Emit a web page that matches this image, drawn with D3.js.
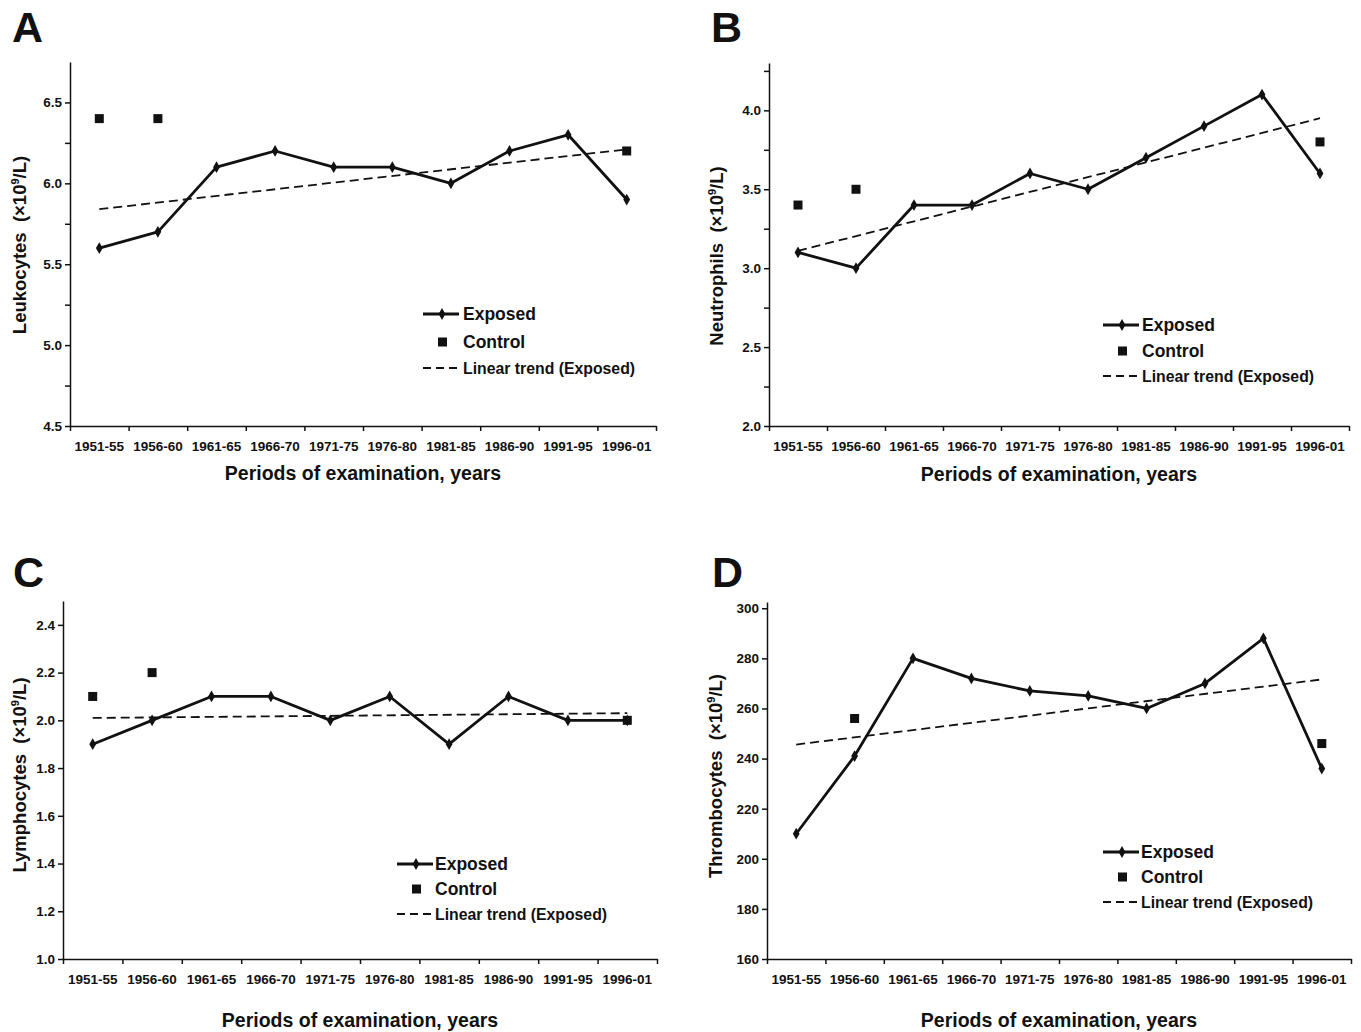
<!DOCTYPE html>
<html>
<head>
<meta charset="utf-8">
<script src="https://cdn.jsdelivr.net/npm/d3@7"></script>
<style>
  html, body { margin: 0; padding: 0; background: #fff; }
  svg { display: block; font-family: "Liberation Sans", Arial, sans-serif; font-weight: bold; }
</style>
</head>
<body>
<div id="chart"></div>
<script>
// Blood counts over examination periods — four panels (A–D)
const periods = ["1951-55", "1956-60", "1961-65", "1966-70", "1971-75",
                 "1976-80", "1981-85", "1986-90", "1991-95", "1996-01"];

const leukocytesExposed = [5.6, 5.7, 6.1, 6.2, 6.1, 6.1, 6.0, 6.2, 6.3, 5.9];
const leukocytesControl = [6.4, 6.4, null, null, null, null, null, null, null, 6.2];
const leukocytesTrend = [5.84, 6.21];
const leukocytesTicks = [4.5, 5.0, 5.5, 6.0, 6.5];
const leukocytesMinor = [4.75, 5.25, 5.75, 6.25];

const neutrophilsExposed = [3.1, 3.0, 3.4, 3.4, 3.6, 3.5, 3.7, 3.9, 4.1, 3.6];
const neutrophilsControl = [3.4, 3.5, null, null, null, null, null, null, null, 3.8];
const neutrophilsTrend = [3.11, 3.95];
const neutrophilsTicks = [2.0, 2.5, 3.0, 3.5, 4.0];
const neutrophilsMinor = [2.25, 2.75, 3.25, 3.75, 4.25];

const lymphocytesExposed = [1.9, 2.0, 2.1, 2.1, 2.0, 2.1, 1.9, 2.1, 2.0, 2.0];
const lymphocytesControl = [2.1, 2.2, null, null, null, null, null, null, null, 2.0];
const lymphocytesTrend = [2.01, 2.03];
const lymphocytesTicks = [1.0, 1.2, 1.4, 1.6, 1.8, 2.0, 2.2, 2.4];

const thrombocytesExposed = [210, 241, 280, 272, 267, 265, 260, 270, 288, 236];
const thrombocytesControl = [null, 256, null, null, null, null, null, null, null, 246];
const thrombocytesTrend = [245.6, 271.6];
const thrombocytesTicks = [160, 180, 200, 220, 240, 260, 280, 300];

const legendLabels = ["Exposed", "Control", "Linear trend (Exposed)"];
const xTitle = "Periods of examination, years";

const panels = [
  { letter: "A", name: "Leukocytes", exposed: leukocytesExposed, control: leukocytesControl,
    trend: leukocytesTrend, ticks: leukocytesTicks, minor: leukocytesMinor, fmt: ".1f",
    domain: [4.5, 6.75], x0: 70, x1: 656, yTop: 62, yBot: 426,
    letterX: 12, letterY: 42, labelX: 26, labelY: 245, titleY: 480,
    legend: { x: 423, tx: 463, rows: [314, 342, 368] } },
  { letter: "B", name: "Neutrophils", exposed: neutrophilsExposed, control: neutrophilsControl,
    trend: neutrophilsTrend, ticks: neutrophilsTicks, minor: neutrophilsMinor, fmt: ".1f",
    domain: [2.0, 4.3], x0: 769, x1: 1349, yTop: 63, yBot: 426,
    letterX: 711, letterY: 42, labelX: 723, labelY: 256, titleY: 481,
    legend: { x: 1103, tx: 1142, rows: [325, 351, 376] } },
  { letter: "C", name: "Lymphocytes", exposed: lymphocytesExposed, control: lymphocytesControl,
    trend: lymphocytesTrend, ticks: lymphocytesTicks, minor: [], fmt: ".1f",
    domain: [1.0, 2.5], x0: 63, x1: 657, yTop: 601, yBot: 959,
    letterX: 13, letterY: 587, labelX: 26, labelY: 775, titleY: 1027,
    legend: { x: 397, tx: 435, rows: [864, 889, 914] } },
  { letter: "D", name: "Thrombocytes", exposed: thrombocytesExposed, control: thrombocytesControl,
    trend: thrombocytesTrend, ticks: thrombocytesTicks, minor: [], fmt: "d",
    domain: [160, 302.5], x0: 767, x1: 1351, yTop: 602, yBot: 959,
    letterX: 712, letterY: 587, labelX: 722, labelY: 776, titleY: 1027,
    legend: { x: 1103, tx: 1141, rows: [852, 877, 902] } }
];

const ink = "#111";
const svg = d3.select("#chart").append("svg")
  .attr("width", 1361).attr("height", 1032)
  .attr("viewBox", "0 0 1361 1032");

function drawPanel(p) {
  const g = svg.append("g");
  const x = d3.scaleBand().domain(periods).range([p.x0, p.x1]).padding(0);
  const xEdge = d3.scaleLinear().domain([0, periods.length]).range([p.x0, p.x1]);
  const y = d3.scaleLinear().domain(p.domain).range([p.yBot, p.yTop]);
  const cx = d => x(d) + x.bandwidth() / 2;
  const fmt = d3.format(p.fmt);

  // Panel letter
  g.append("text").attr("x", p.letterX).attr("y", p.letterY)
    .attr("font-size", "43px").attr("fill", ink).text(p.letter);

  // Y axis
  const majors = new Set(p.ticks);
  const yAxis = g.append("g").attr("transform", `translate(${p.x0},0)`)
    .call(d3.axisLeft(y).tickValues(p.ticks.concat(p.minor)).tickSizeInner(5).tickSizeOuter(0)
      .tickPadding(3).tickFormat(d => majors.has(d) ? fmt(d) : ""));
  yAxis.selectAll("path, line").attr("stroke", ink).attr("stroke-width", 1.5);
  yAxis.selectAll("text").attr("font-size", "13.5px").attr("fill", ink)
    .attr("font-family", "'Liberation Sans', Arial, sans-serif").attr("font-weight", "bold");

  // X axis: tick marks on band edges, labels at band centers
  const xAxis = g.append("g").attr("transform", `translate(0,${p.yBot})`)
    .call(d3.axisBottom(xEdge).tickValues(d3.range(periods.length + 1))
      .tickSizeInner(5).tickSizeOuter(0).tickFormat(""));
  xAxis.selectAll("path, line").attr("stroke", ink).attr("stroke-width", 1.5);

  const xLabels = g.append("g").attr("transform", `translate(0,${p.yBot})`)
    .call(d3.axisBottom(x).tickSize(0).tickPadding(15));
  xLabels.select(".domain").remove();
  xLabels.selectAll("text").attr("font-size", "13.5px").attr("fill", ink)
    .attr("font-family", "'Liberation Sans', Arial, sans-serif").attr("font-weight", "bold");

  // Axis titles
  g.append("text").attr("x", (p.x0 + p.x1) / 2).attr("y", p.titleY)
    .attr("text-anchor", "middle").attr("font-size", "19.5px").attr("fill", ink).text(xTitle);

  const yl = g.append("text")
    .attr("transform", `translate(${p.labelX},${p.labelY}) rotate(-90)`)
    .attr("text-anchor", "middle").attr("font-size", "18.5px").attr("fill", ink);
  yl.append("tspan").text(p.name + "\u00a0\u00a0(\u00d710");
  yl.append("tspan").attr("dy", -7).attr("font-size", "11px").text("9");
  yl.append("tspan").attr("dy", 7).text("/L)");

  // Linear trend (dashed)
  const ends = [periods[0], periods[periods.length - 1]];
  g.append("line")
    .attr("x1", cx(ends[0])).attr("y1", y(p.trend[0]))
    .attr("x2", cx(ends[1])).attr("y2", y(p.trend[1]))
    .attr("stroke", ink).attr("stroke-width", 1.8).attr("stroke-dasharray", "9,5");

  // Exposed line + diamonds
  const pts = periods.map((d, i) => ({ d, v: p.exposed[i] }));
  g.append("path").datum(pts)
    .attr("fill", "none").attr("stroke", ink).attr("stroke-width", 2.8)
    .attr("stroke-linejoin", "round")
    .attr("d", d3.line().x(e => cx(e.d)).y(e => y(e.v)));
  g.selectAll(".dia").data(pts).join("path")
    .attr("transform", e => `translate(${cx(e.d)},${y(e.v)})`)
    .attr("d", d3.symbol(d3.symbolDiamond, 40)).attr("fill", ink);

  // Control squares
  const ctl = periods.map((d, i) => ({ d, v: p.control[i] })).filter(e => e.v != null);
  g.selectAll(".ctl").data(ctl).join("rect")
    .attr("x", e => cx(e.d) - 4.5).attr("y", e => y(e.v) - 4.5)
    .attr("width", 9).attr("height", 9).attr("fill", ink);

  // Legend
  const L = p.legend;
  g.append("line").attr("x1", L.x).attr("x2", L.x + 36).attr("y1", L.rows[0]).attr("y2", L.rows[0])
    .attr("stroke", ink).attr("stroke-width", 2.8);
  g.append("path").attr("transform", `translate(${L.x + 19},${L.rows[0]})`)
    .attr("d", d3.symbol(d3.symbolDiamond, 40)).attr("fill", ink);
  g.append("rect").attr("x", L.x + 15).attr("y", L.rows[1] - 4.5).attr("width", 9).attr("height", 9).attr("fill", ink);
  g.append("line").attr("x1", L.x).attr("x2", L.x + 35).attr("y1", L.rows[2]).attr("y2", L.rows[2])
    .attr("stroke", ink).attr("stroke-width", 1.8).attr("stroke-dasharray", "8,5");
  const sizes = ["17.5px", "17.5px", "15.8px"];
  legendLabels.forEach((t, i) => {
    g.append("text").attr("x", L.tx).attr("y", L.rows[i]).attr("dy", "0.35em")
      .attr("font-size", sizes[i]).attr("fill", ink).text(t);
  });
}

panels.forEach(drawPanel);
</script>
</body>
</html>
